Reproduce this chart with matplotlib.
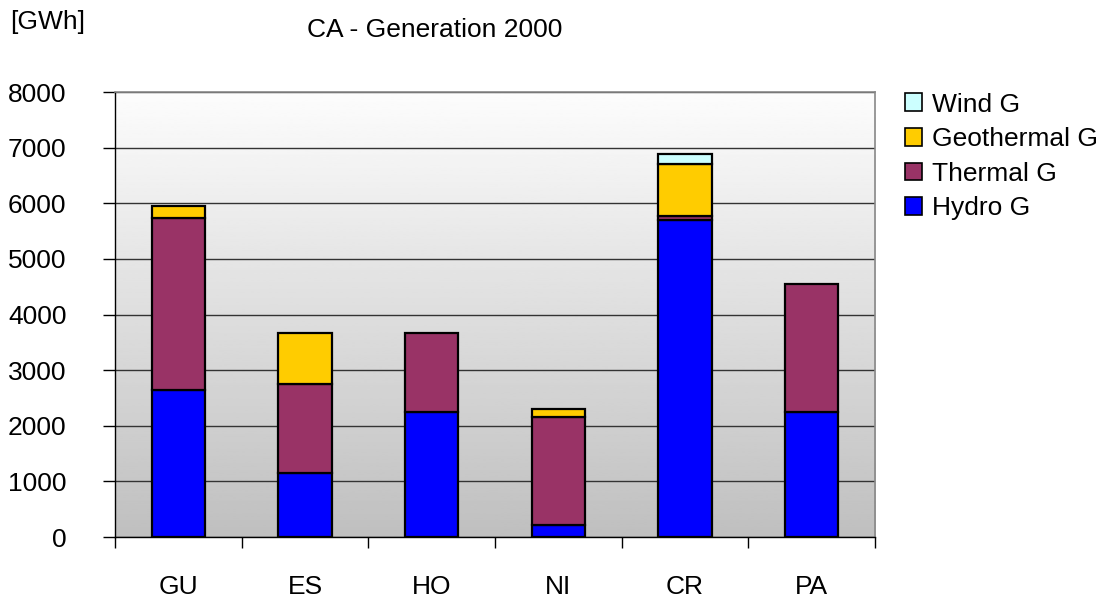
import numpy as np
import matplotlib.pyplot as plt
from matplotlib.patches import Patch

plt.rcParams['font.family'] = ['Liberation Sans', 'DejaVu Sans']

# data (GWh)
countries = ['GU', 'ES', 'HO', 'NI', 'CR', 'PA']
hydro = [2640, 1145, 2255, 210, 5700, 2245]
thermal = [3100, 1600, 1410, 1950, 75, 2300]
geothermal = [220, 920, 0, 145, 935, 0]
wind = [0, 0, 0, 0, 175, 0]

series = [('Hydro G', hydro, '#0000FF'),
          ('Thermal G', thermal, '#993366'),
          ('Geothermal G', geothermal, '#FFCC00'),
          ('Wind G', wind, '#CCFFFF')]

fig = plt.figure(figsize=(11.08, 5.98), dpi=100)
ax = fig.add_axes([0.1038, 0.102, 0.686, 0.744])

# grey gradient background
grad = np.linspace(0.75, 0.99, 256).reshape(-1, 1)
ax.imshow(grad, cmap='gray', vmin=0, vmax=1, origin='lower', aspect='auto',
          extent=[-0.5, 5.5, 0, 8000], zorder=0)

x = np.arange(len(countries))
bottom = np.zeros(len(countries))
for name, vals, col in series:
    vals = np.array(vals, dtype=float)
    mask = vals > 0
    ax.bar(x[mask], vals[mask], bottom=bottom[mask], width=0.42, color=col,
           edgecolor='black', linewidth=1.6, zorder=3)
    bottom += vals

ax.set_xlim(-0.5, 5.5)
ax.set_ylim(0, 8000)
ax.set_yticks(np.arange(0, 8001, 1000))
ax.yaxis.grid(True, color='#333333', linewidth=1.0, zorder=1)
ax.set_axisbelow(True)

ax.set_xticks(x)
ax.set_xticklabels(countries)
ax.set_xticks(np.arange(-0.5, 6, 1), minor=True)
ax.tick_params(axis='x', which='major', length=0, pad=27, labelsize=19)
ax.tick_params(axis='x', which='minor', length=8, width=1.0, direction='out')
ax.tick_params(axis='y', length=9, width=1.0, direction='out', pad=26, labelsize=19)

for s in ['left', 'bottom']:
    ax.spines[s].set_color('black')
    ax.spines[s].set_linewidth(1.0)
for s in ['top', 'right']:
    ax.spines[s].set_color('#888888')
    ax.spines[s].set_linewidth(1.2)

fig.text(435 / 1108, 1 - 30 / 598, 'CA - Generation 2000', ha='center', va='center', fontsize=19)
fig.text(10 / 1108, 1 - 22 / 598, '[GWh]', ha='left', va='center', fontsize=19)

handles = [Patch(facecolor=col, edgecolor='black', linewidth=1.2, label=name)
           for name, vals, col in series[::-1]]
fig.legend(handles=handles, loc='upper left', bbox_to_anchor=(894 / 1108, 1 - 82 / 598),
           frameon=False, fontsize=19, handlelength=0.65, handleheight=0.65,
           handletextpad=0.4, labelspacing=0.4, borderaxespad=0)

fig.savefig('out.png', dpi=100)
